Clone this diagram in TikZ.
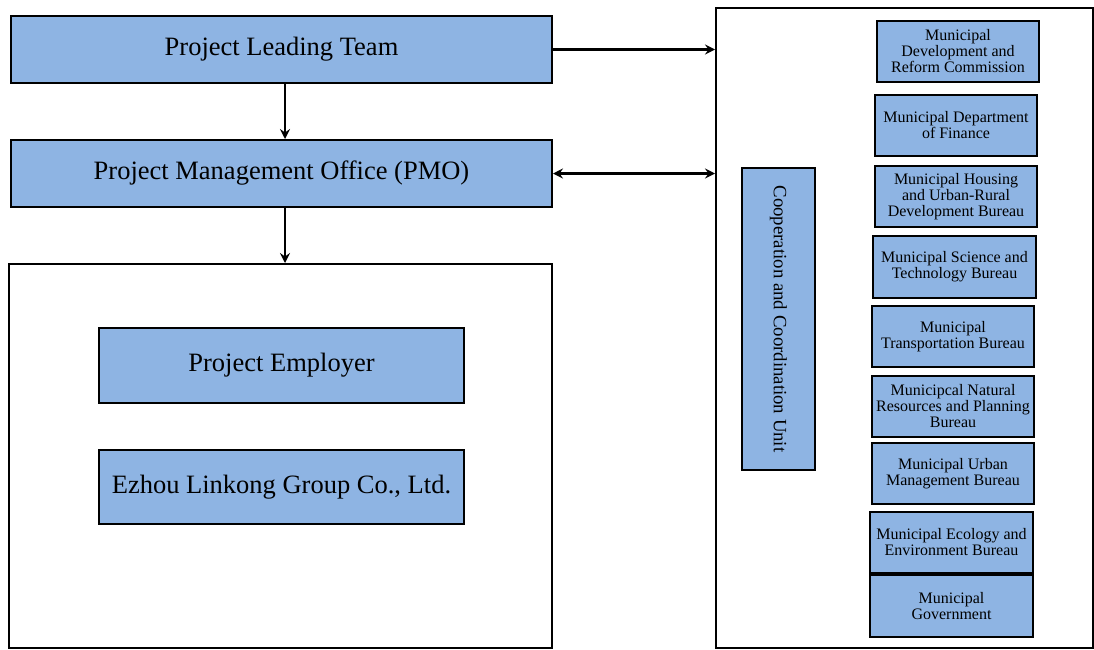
\documentclass[tikz,border=0pt]{standalone}
\usepackage{fontspec}
\setmainfont{Liberation Serif}
\usetikzlibrary{arrows.meta}
\definecolor{boxblue}{RGB}{142,180,227}
\begin{document}
\begin{tikzpicture}[x=1pt,y=-1pt,
  bigbox/.style={draw=black,line width=2pt,fill=boxblue,inner sep=0pt,
    font=\fontsize{26.5}{30}\selectfont},
  frame/.style={draw=black,line width=2pt,inner sep=0pt},
  unitbox/.style={draw=black,line width=2.8pt,fill=boxblue,inner sep=0pt,
    align=center,font=\fontsize{16}{16}\selectfont},
  tip/.style={Stealth[length=10pt,width=10pt,inset=3.5pt]},
  link/.style={line width=2.2pt,-{Stealth[length=10pt,width=10pt,inset=3.5pt]}},
  duallink/.style={line width=2.2pt,{Stealth[length=10pt,width=10pt,inset=3.5pt]}-{Stealth[length=10pt,width=10pt,inset=3.5pt]}}]
\useasboundingbox (0,0) rectangle (1094,649);

% left column
\node[bigbox,minimum width=541pt,minimum height=67pt] (lead) at (281.5,49.5) {Project Leading Team};
\node[bigbox,minimum width=541pt,minimum height=67pt] (pmo) at (281.5,173.5) {Project Management Office (PMO)};
\node[frame,minimum width=543pt,minimum height=384pt] (owner) at (280.5,456) {};
\node[bigbox,minimum width=365pt,minimum height=75pt] (emp) at (281.5,365.5) {Project Employer};
\node[bigbox,minimum width=365pt,minimum height=74pt] (ezhou) at (281.5,487) {Ezhou Linkong Group Co., Ltd.};

% right column
\node[frame,minimum width=377pt,minimum height=640pt] (coord) at (904.5,328) {};
\node[bigbox,minimum width=73pt,minimum height=302pt,font=\fontsize{18.8}{20}\selectfont] (coop) at (778.5,319)
  {\rotatebox{-90}{Cooperation and Coordination Unit}};

\node[unitbox,minimum width=162pt,minimum height=61pt] (u1) at (958,51.5) {Municipal\\Development and\\Reform Commission};
\node[unitbox,minimum width=162pt,minimum height=61pt] (u2) at (956,125.5) {Municipal Department\\of Finance};
\node[unitbox,minimum width=162pt,minimum height=61pt] (u3) at (956,196.5) {Municipal Housing\\and Urban-Rural\\Development Bureau};
\node[unitbox,minimum width=163pt,minimum height=62pt] (u4) at (954.5,267) {Municipal Science and\\Technology Bureau};
\node[unitbox,minimum width=162pt,minimum height=61pt] (u5) at (953,336.5) {Municipal\\Transportation Bureau};
\node[unitbox,minimum width=162pt,minimum height=61pt] (u6) at (953,406.5) {Municipcal Natural\\Resources and Planning\\Bureau};
\node[unitbox,minimum width=162pt,minimum height=61pt] (u7) at (953,473.5) {Municipal Urban\\Management Bureau};
\node[unitbox,minimum width=163pt,minimum height=61pt] (u8) at (951.5,542.5) {Municipal Ecology and\\Environment Bureau};
\node[unitbox,minimum width=163pt,minimum height=62pt] (u9) at (951.5,606) {Municipal\\Government};

% connectors
\coordinate (pmotop) at ([xshift=3.5pt]pmo.north);
\draw[link] ([xshift=3.5pt]lead.south) -- (pmotop);
\draw[link] (pmo.south -| pmotop) -- (owner.north -| pmotop);
\draw[link] (lead.east) -- (lead.east -| coord.west);
\draw[duallink] (pmo.east) -- (pmo.east -| coord.west);
\end{tikzpicture}
\end{document}
